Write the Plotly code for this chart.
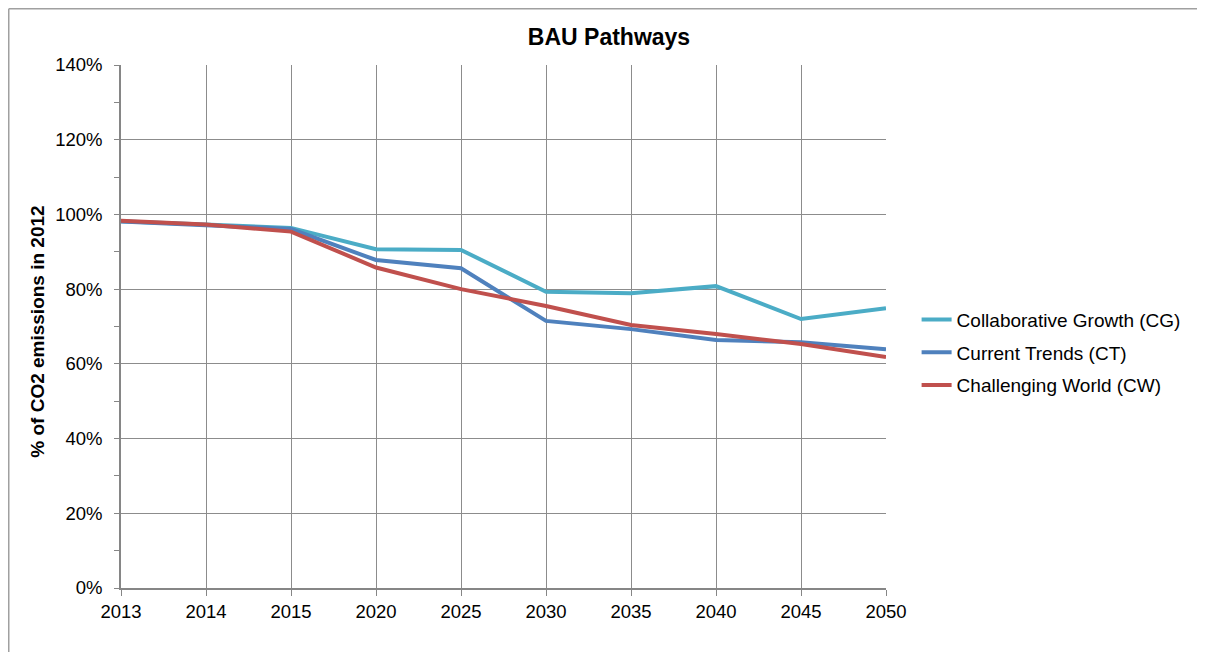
"""BAU Pathways line chart."""
import plotly.graph_objects as go

# ── Data ───────────────────────────────────────────────────────────────────
years = ["2013", "2014", "2015", "2020", "2025", "2030", "2035", "2040", "2045", "2050"]
cg = [0.982, 0.972, 0.964, 0.907, 0.905, 0.793, 0.789, 0.808, 0.720, 0.749]
ct = [0.981, 0.971, 0.961, 0.878, 0.856, 0.715, 0.693, 0.664, 0.658, 0.639]
cw = [0.983, 0.973, 0.954, 0.858, 0.800, 0.755, 0.704, 0.680, 0.653, 0.618]

names = ["Collaborative Growth (CG)", "Current Trends (CT)", "Challenging World (CW)"]
colors = ["#4BACC6", "#4F81BD", "#C0504D"]

FONT = "Liberation Sans, Arial, sans-serif"
GRID = "#8C8C8C"
AXIS = "#868686"

# the page body has an 8px margin, so the figure is shifted by that much
OFF = 8
L, R, T, B = 121 - OFF, 319, 65 - OFF, 64
W, H = 1205 - OFF, 652 - OFF

fig = go.Figure()
for series, name, color in zip([cg, ct, cw], names, colors):
    fig.add_trace(go.Scatter(x=years, y=series, name=name, mode="lines",
                             legendgroup=name,
                             line=dict(color=color, width=4)))

fig.update_layout(
    width=W, height=H,
    paper_bgcolor="white", plot_bgcolor="white",
    font=dict(family=FONT, size=18.5, color="black"),
    margin=dict(l=L, r=R, t=T, b=B),
    title=dict(text="<b>BAU Pathways</b>", x=(609 - OFF) / W, xanchor="center",
               y=1 - (37 - OFF) / H, yanchor="middle", font=dict(size=23)),
    legend=dict(x=1.04, xanchor="left", y=0.45, yanchor="middle",
                font=dict(size=19), bgcolor="rgba(0,0,0,0)",
                tracegroupgap=5),
    showlegend=True,
)

fig.update_xaxes(
    type="category", range=[0, len(years) - 1],
    showgrid=True, gridcolor=GRID, gridwidth=1,
    showline=True, linecolor=AXIS, linewidth=1.5,
    ticks="outside", ticklen=6, tickcolor=AXIS, tickwidth=1,
    tickfont=dict(size=18.5),
)
fig.update_yaxes(
    range=[0, 1.4], dtick=0.2, tickformat=".0%",
    showgrid=True, gridcolor=GRID, gridwidth=1,
    showline=True, linecolor=AXIS, linewidth=1.5,
    ticks="outside", ticklen=5, tickcolor=AXIS,
    ticklabelstandoff=8,
    minor=dict(dtick=0.1, ticks="outside", ticklen=5, tickcolor=AXIS, showgrid=False),
    tickfont=dict(size=18.5), zeroline=False,
)

fig.add_annotation(text="<b>% of CO2 emissions in 2012</b>", textangle=-90,
                   xref="paper", yref="paper", x=(38 - 121) / 765, y=0.49,
                   showarrow=False, font=dict(size=19), xanchor="center", yanchor="middle")

# outer chart border (top and left edges visible)
top = (588 - OFF - 0.75) / 523
left = (OFF + 0.75 - 121) / 765
fig.add_shape(type="line", xref="paper", yref="paper", x0=left, x1=1.45, y0=top, y1=top,
              line=dict(color="#A0A0A0", width=1.5))
fig.add_shape(type="line", xref="paper", yref="paper", x0=left, x1=left, y0=top, y1=-0.2,
              line=dict(color="#A0A0A0", width=1.5))

fig.write_html("out.html")
